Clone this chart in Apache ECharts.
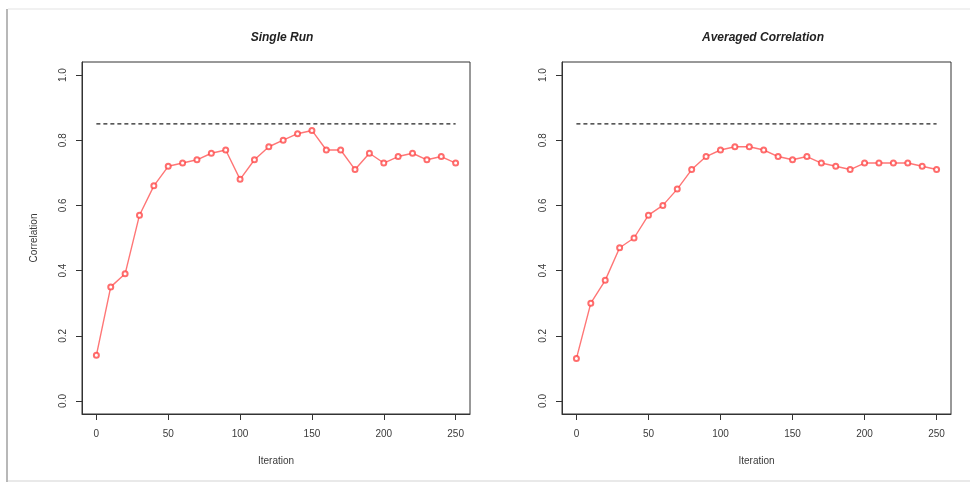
<!DOCTYPE html>
<html>
<head>
<meta charset="utf-8">
<script src="https://cdn.jsdelivr.net/npm/echarts@6/dist/echarts.min.js"></script>
<style>
  html, body { margin: 0; padding: 0; background: #fff; }
  #main { width: 970px; height: 485px; }
</style>
</head>
<body>
<div id="main"></div>
<script>
// iterations (x) shared by both panels
var iterations = [0, 10, 20, 30, 40, 50, 60, 70, 80, 90, 100, 110, 120, 130, 140, 150, 160, 170, 180, 190, 200, 210, 220, 230, 240, 250];
// single run correlation
var singleRun = [0.14, 0.35, 0.39, 0.57, 0.66, 0.72, 0.73, 0.74, 0.76, 0.77, 0.68, 0.74, 0.78, 0.80, 0.82, 0.83, 0.77, 0.77, 0.71, 0.76, 0.73, 0.75, 0.76, 0.74, 0.75, 0.73];
// averaged correlation
var averaged = [0.13, 0.30, 0.37, 0.47, 0.50, 0.57, 0.60, 0.65, 0.71, 0.75, 0.77, 0.78, 0.78, 0.77, 0.75, 0.74, 0.75, 0.73, 0.72, 0.71, 0.73, 0.73, 0.73, 0.73, 0.72, 0.71];
// reference level (dashed)
var refX = [0, 250];
var refLevel = 0.85;
// tick labels
var xTicks = [0, 50, 100, 150, 200, 250];
var yTicks = [0, 0.2, 0.4, 0.6, 0.8, 1.0];
var titles = ['Single Run', 'Averaged Correlation'];

function pairs(xs, ys) {
  var out = [];
  for (var i = 0; i < xs.length; i++) out.push([xs[i], ys[i]]);
  return out;
}

var axisText = { color: '#3a3a3a', fontFamily: 'Liberation Sans', fontSize: 10 };

function makeX(idx) {
  return {
    gridIndex: idx, type: 'value', min: -10, max: 260,
    name: 'Iteration', nameLocation: 'middle', nameGap: 42,
    nameTextStyle: axisText,
    axisLine: { show: true, onZero: false, lineStyle: { color: '#333', width: 1 } },
    axisTick: { show: true, inside: false, length: 6, customValues: xTicks, lineStyle: { color: '#333' } },
    axisLabel: Object.assign({ margin: 15, customValues: xTicks }, axisText),
    splitLine: { show: false }
  };
}

function makeY(idx, withName) {
  return {
    gridIndex: idx, type: 'value', min: -0.04, max: 1.04,
    name: withName ? 'Correlation' : '', nameLocation: 'middle', nameGap: 43,
    nameRotate: 90, nameTextStyle: axisText,
    axisLine: { show: true, onZero: false, lineStyle: { color: '#333', width: 1 } },
    axisTick: { show: true, inside: false, length: 6, customValues: yTicks, lineStyle: { color: '#333' } },
    axisLabel: Object.assign({
      margin: 14, rotate: 90, customValues: yTicks,
      formatter: function (v) { return v.toFixed(1); }
    }, axisText),
    splitLine: { show: false }
  };
}

function lineSeries(idx, ys) {
  return {
    type: 'line', xAxisIndex: idx, yAxisIndex: idx,
    data: pairs(iterations, ys),
    symbol: 'emptyCircle', symbolSize: 5,
    lineStyle: { color: 'rgba(255,60,60,0.7)', width: 1.4 },
    itemStyle: { color: 'rgba(255,60,60,0.75)', borderWidth: 1 },
    z: 3
  };
}

function refSeries(idx) {
  return {
    type: 'line', xAxisIndex: idx, yAxisIndex: idx,
    data: pairs(refX, [refLevel, refLevel]),
    symbol: 'none',
    lineStyle: { color: '#222', width: 1.2, type: [4, 3] },
    z: 2
  };
}

var titleStyle = { fontFamily: 'Liberation Sans', fontSize: 12, fontWeight: 'bold', fontStyle: 'italic', color: '#222' };

var option = {
  backgroundColor: '#fff',
  animation: false,
  title: [
    { text: titles[0], left: 277, top: 27, textAlign: 'center', textStyle: titleStyle },
    { text: titles[1], left: 758, top: 27, textAlign: 'center', textStyle: titleStyle }
  ],
  grid: [
    { left: 82, top: 62, width: 388, height: 352, show: true, borderColor: '#333', borderWidth: 1, backgroundColor: 'transparent' },
    { left: 562, top: 62, width: 389, height: 352, show: true, borderColor: '#333', borderWidth: 1, backgroundColor: 'transparent' }
  ],
  xAxis: [makeX(0), makeX(1)],
  yAxis: [makeY(0, true), makeY(1, false)],
  series: [
    refSeries(0), lineSeries(0, singleRun),
    refSeries(1), lineSeries(1, averaged)
  ],
  // page-like frame around the figure
  graphic: [
    { type: 'line', shape: { x1: 7, y1: 9, x2: 7, y2: 482 }, style: { stroke: '#b8b8b8', lineWidth: 2 } },
    { type: 'line', shape: { x1: 8, y1: 9, x2: 970, y2: 9 }, style: { stroke: '#ececec', lineWidth: 1.5 } },
    { type: 'line', shape: { x1: 8, y1: 481, x2: 970, y2: 481 }, style: { stroke: '#e2e2e2', lineWidth: 1.5 } }
  ]
};

var myChart = echarts.init(document.getElementById('main'));
myChart.setOption(option);
</script>
</body>
</html>
